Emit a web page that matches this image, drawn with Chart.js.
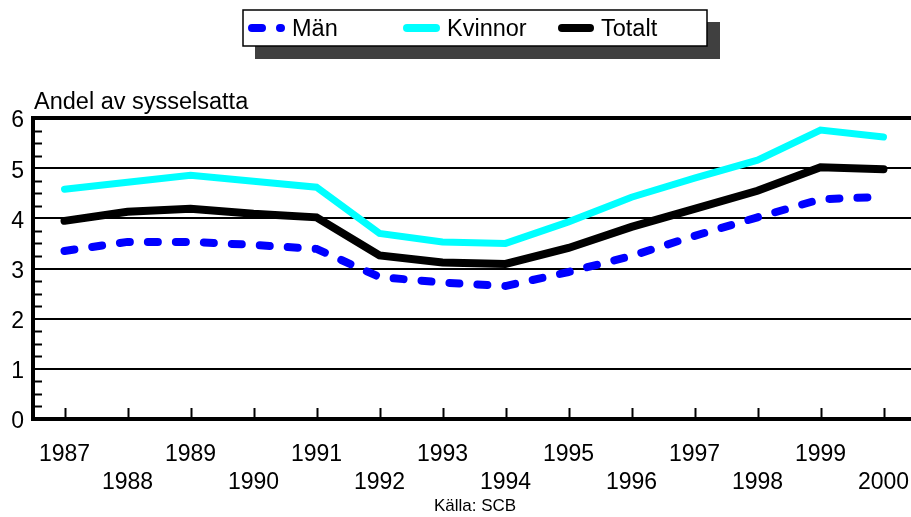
<!DOCTYPE html>
<html>
<head>
<meta charset="utf-8">
<script src="https://cdn.jsdelivr.net/npm/chart.js@4/dist/chart.umd.min.js"></script>
<style>
  html, body { margin: 0; padding: 0; background: #fff; overflow: hidden; }
  #chart { display: block; }
</style>
</head>
<body>
<canvas id="chart" width="915" height="517"></canvas>
<script>
const years = ['1987', '1988', '1989', '1990', '1991', '1992', '1993', '1994', '1995', '1996', '1997', '1998', '1999', '2000'];
const man = [3.35, 3.53, 3.53, 3.47, 3.39, 2.83, 2.72, 2.65, 2.93, 3.25, 3.65, 4.02, 4.38, 4.43];
const kvinnor = [4.58, 4.72, 4.86, 4.74, 4.62, 3.70, 3.53, 3.50, 3.93, 4.42, 4.80, 5.16, 5.76, 5.62];
const totalt = [3.95, 4.13, 4.19, 4.09, 4.02, 3.26, 3.12, 3.09, 3.41, 3.83, 4.19, 4.55, 5.02, 4.98];
const yTicks = [0, 1, 2, 3, 4, 5, 6];

const FONT = 'Arial, "Liberation Sans", sans-serif';

// legend box, axis title, source text, inward ticks
const extras = {
  id: 'extras',
  afterDraw(c) {
    const ctx = c.ctx;
    const x = c.scales.x, y = c.scales.y;
    ctx.save();

    // inward x ticks
    ctx.strokeStyle = '#000';
    ctx.lineWidth = 2;
    years.forEach((yr, i) => {
      const px = Math.round(x.getPixelForValue(i)) + 0.5;
      ctx.beginPath();
      ctx.moveTo(px, y.bottom - 1);
      ctx.lineTo(px, y.bottom - 11);
      ctx.stroke();
    });
    // minor y ticks every 0.25
    for (let v = 0.25; v < 6; v += 0.25) {
      if (Math.abs(v - Math.round(v)) < 0.01) continue;
      const py = Math.round(y.getPixelForValue(v)) + 0.5;
      ctx.beginPath();
      ctx.moveTo(x.left, py);
      ctx.lineTo(x.left + 9, py);
      ctx.stroke();
    }

    // axis title
    ctx.fillStyle = '#000';
    ctx.font = '23.5px ' + FONT;
    ctx.textBaseline = 'middle';
    ctx.textAlign = 'left';
    ctx.fillText('Andel av sysselsatta', 34, 103);

    // source
    ctx.font = '17px ' + FONT;
    ctx.textAlign = 'center';
    ctx.fillText('Källa: SCB', 475, 506);

    // legend
    ctx.fillStyle = '#404040';
    ctx.fillRect(255, 22, 465, 37);
    ctx.fillStyle = '#fff';
    ctx.fillRect(243, 10, 464, 36);
    ctx.strokeStyle = '#000';
    ctx.lineWidth = 1.5;
    ctx.strokeRect(243, 10, 464, 36);

    const ds = c.data.datasets;
    const items = [
      { d: ds[0], x1: 252, x2: 281, tx: 292 },
      { d: ds[1], x1: 407, x2: 436, tx: 447 },
      { d: ds[2], x1: 562, x2: 590, tx: 601 }
    ];
    items.forEach(it => {
      ctx.strokeStyle = it.d.borderColor;
      ctx.lineWidth = 8;
      ctx.lineCap = 'round';
      ctx.setLineDash(it.d.borderDash || []);
      ctx.beginPath();
      ctx.moveTo(it.x1, 28);
      ctx.lineTo(it.x2, 28);
      ctx.stroke();
      ctx.setLineDash([]);
      ctx.fillStyle = '#000';
      ctx.font = '23.5px ' + FONT;
      ctx.textAlign = 'left';
      ctx.fillText(it.d.label, it.tx, 30);
    });
    ctx.restore();
  }
};

new Chart(document.getElementById('chart'), {
  type: 'line',
  data: {
    labels: years,
    datasets: [
      { label: 'Män', data: man, borderColor: '#0000ff', borderWidth: 8, borderDash: [10, 18], borderCapStyle: 'round' },
      { label: 'Kvinnor', data: kvinnor, borderColor: '#00ffff', borderWidth: 7, borderCapStyle: 'round' },
      { label: 'Totalt', data: totalt, borderColor: '#000000', borderWidth: 8, borderCapStyle: 'round' }
    ]
  },
  options: {
    responsive: false,
    animation: false,
    devicePixelRatio: 1,
    layout: { padding: { top: 118, right: 0, left: 0, bottom: 0 } },
    elements: { point: { radius: 0 }, line: { tension: 0, borderJoinStyle: 'miter', fill: false } },
    plugins: { legend: { display: false }, tooltip: { enabled: false } },
    scales: {
      x: {
        offset: true,
        grid: { display: false, drawTicks: false },
        border: { display: true, color: '#000', width: 4 },
        ticks: {
          color: '#000',
          font: { family: FONT, size: 23 },
          padding: 22,
          maxRotation: 0,
          autoSkip: false,
          callback: (v, i) => i % 2 === 0 ? [years[i], ''] : ['', years[i]]
        },
        afterFit: s => { s.height = 98; s.paddingLeft = 0; s.paddingRight = 0; }
      },
      y: {
        min: 0,
        max: 6,
        afterBuildTicks: s => { s.ticks = yTicks.map(v => ({ value: v })); },
        grid: {
          color: '#000',
          lineWidth: ctx => ctx.tick && ctx.tick.value === 6 ? 4 : (ctx.tick && ctx.tick.value === 0 ? 0 : 2),
          drawTicks: false
        },
        border: { display: true, color: '#000', width: 4 },
        ticks: {
          color: '#000',
          font: { family: FONT, size: 23, lineHeight: 0.26 },
          padding: 9,
          callback: v => ['', String(v)]
        },
        afterFit: s => { s.width = 33; s.paddingTop = 0; s.paddingBottom = 0; }
      }
    }
  },
  plugins: [extras]
});
</script>
</body>
</html>
